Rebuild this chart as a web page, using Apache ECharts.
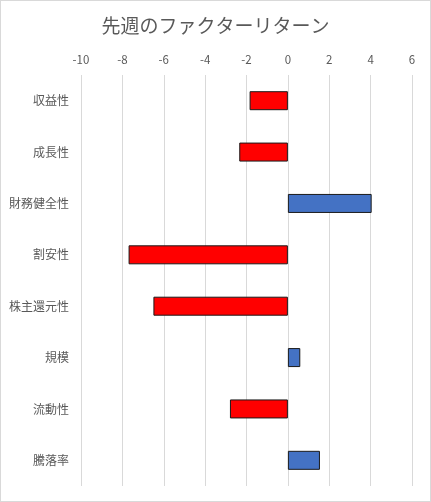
<!DOCTYPE html>
<html><head><meta charset="utf-8">
<script src="https://cdn.jsdelivr.net/npm/echarts@6/dist/echarts.min.js"></script>
<style>
html,body{margin:0;padding:0;background:#fff;}
#c{width:431px;height:502px;box-sizing:border-box;border:1px solid #d9d9d9;}
</style></head>
<body><div id="c"></div>
<script>
const titleText = '先週のファクターリターン';
const categories = ['収益性','成長性','財務健全性','割安性','株主還元性','規模','流動性','騰落率'];
const values = [-1.85, -2.35, 4.05, -7.7, -6.5, 0.6, -2.8, 1.55];
const xMin = -10, xMax = 6, xStep = 2;

const chart = echarts.init(document.getElementById('c'), null, {renderer:'canvas'});
chart.setOption({
  animation:false,
  backgroundColor:'#fff',
  title:{text:titleText, left:'center', top:10,
    textStyle:{fontFamily:'Noto Sans CJK JP', fontSize:19, fontWeight:'normal', color:'#595959'}},
  grid:{left:80, right:18, top:74, bottom:15, containLabel:false},
  xAxis:{type:'value', position:'top', min:xMin, max:xMax, interval:xStep,
    axisLine:{show:false}, axisTick:{show:false},
    axisLabel:{color:'#595959', fontSize:11.5, fontFamily:'Noto Sans CJK JP', margin:10},
    splitLine:{lineStyle:{color:'#d9d9d9', width:1}}},
  yAxis:{type:'category', data:categories, inverse:true,
    axisLine:{show:false}, axisTick:{show:false},
    axisLabel:{color:'#595959', fontSize:12, fontFamily:'Noto Sans CJK JP', margin:12}},
  series:[{type:'bar', data:values.map(v=>({value:v,
      itemStyle:{color: v<0 ? '#ff0000' : '#4472c4', borderColor:'#1a1a1a', borderWidth:1}})),
    barWidth:19}]
});
</script></body></html>
